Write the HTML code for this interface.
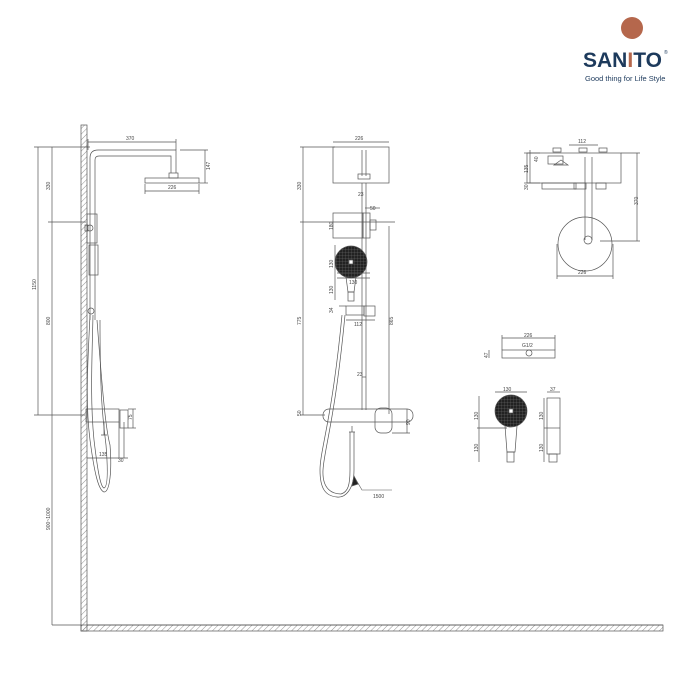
<!DOCTYPE html>
<html><head><meta charset="utf-8"><style>
html,body{margin:0;padding:0;background:#fff;width:700px;height:700px;overflow:hidden}
svg text{font-family:"Liberation Sans",sans-serif;fill:#444}
</style></head><body>
<svg width="700" height="700" viewBox="0 0 700 700" xmlns="http://www.w3.org/2000/svg">
<defs>
<pattern id="h" width="4" height="4" patternUnits="userSpaceOnUse" patternTransform="rotate(45)"><line x1="0" y1="0" x2="0" y2="4" stroke="#777" stroke-width="0.8"/></pattern>
<pattern id="ck" width="3" height="3" patternUnits="userSpaceOnUse"><rect width="3" height="3" fill="#222"/><path d="M0 0H3M0 0V3" stroke="#888" stroke-width="0.4"/></pattern>
</defs>
<!-- logo -->
<circle cx="632" cy="28" r="11" fill="#b5674c"/>
<text x="583" y="67" font-size="21" font-weight="bold" style="fill:#1d3a5c">SAN<tspan style="fill:#b5674c">I</tspan>TO</text>
<text x="664" y="54" font-size="5" style="fill:#1d3a5c">®</text>
<text x="585" y="81" font-size="7.5" style="fill:#1d3a5c">Good thing for Life Style</text>

<g fill="none" stroke="#555" stroke-width="0.7">
<!-- wall & floor -->
<rect x="81" y="125" width="6" height="506" fill="url(#h)"/>
<rect x="81" y="625" width="582" height="6" fill="url(#h)"/>
<line x1="87" y1="625" x2="663" y2="625"/>
<!-- left dims -->
<line x1="38" y1="147" x2="38" y2="415"/><line x1="34" y1="147" x2="90" y2="147"/><line x1="34" y1="415" x2="85" y2="415"/>
<line x1="52" y1="147" x2="52" y2="625"/><line x1="48" y1="222" x2="86" y2="222"/>
<line x1="52" y1="625" x2="81" y2="625"/>
<!-- left pipe -->
<path d="M90 320V158Q90 150 98 150H176V173M95 320V160Q95 156 99 156H171V173"/>
<rect x="169" y="173" width="9" height="5"/>
<rect x="145" y="178" width="54" height="5"/>
<line x1="88" y1="142" x2="176" y2="142"/><line x1="88" y1="139" x2="88" y2="150"/><line x1="176" y1="139" x2="176" y2="150"/>
<line x1="205" y1="150" x2="205" y2="183"/><line x1="180" y1="150" x2="208" y2="150"/><line x1="199" y1="183" x2="208" y2="183"/>
<line x1="145" y1="191" x2="199" y2="191"/><line x1="145" y1="184" x2="145" y2="194"/><line x1="199" y1="184" x2="199" y2="194"/>
<rect x="87" y="214" width="10" height="29"/><circle cx="90" cy="228" r="3"/>
<rect x="85" y="225" width="3" height="6"/>
<rect x="89" y="245" width="9" height="30"/>
<circle cx="91" cy="311" r="3"/>
<path d="M90 315C88 360 85 400 90 440C94 470 98 490 104 492C110 492 112 470 110 445C106 430 103 400 97 320"/>
<path d="M93 315C92 360 90 400 94 440C97 465 100 487 104 488C108 487 108 470 106 445C103 420 100 400 100 320"/>
<rect x="86" y="409" width="33" height="13"/>
<rect x="120" y="410" width="8" height="18"/>
<line x1="124" y1="422" x2="124" y2="458"/><line x1="119" y1="422" x2="119" y2="458"/>
<line x1="133" y1="409" x2="133" y2="428"/><line x1="128" y1="409" x2="136" y2="409"/><line x1="128" y1="428" x2="136" y2="428"/>
<line x1="87" y1="458" x2="128" y2="458"/>
<path d="M104 422V435M101 435H107"/>
<!-- middle view -->
<line x1="303" y1="147" x2="303" y2="415"/><line x1="300" y1="147" x2="335" y2="147"/><line x1="300" y1="222" x2="395" y2="222"/><line x1="300" y1="415" x2="325" y2="415"/>
<line x1="333" y1="142" x2="389" y2="142"/>
<rect x="333" y="147" width="56" height="36"/>
<path d="M362 150V176M366 150V176"/><rect x="358" y="174" width="12" height="5"/>
<line x1="362" y1="183" x2="362" y2="410"/><line x1="366" y1="183" x2="366" y2="410"/>
<rect x="333" y="213" width="30" height="25"/><rect x="363" y="213" width="7" height="25"/>
<rect x="370" y="220" width="6" height="10"/>
<line x1="365" y1="208" x2="380" y2="208"/>
<circle cx="351" cy="262" r="16" fill="url(#ck)"/>
<rect x="349" y="260" width="4" height="4" fill="#fff"/>
<path d="M346 277L348 292H354L356 277"/><rect x="348" y="292" width="6" height="9"/>
<line x1="335" y1="245" x2="335" y2="300"/><line x1="337" y1="273" x2="370" y2="273"/><line x1="337" y1="278" x2="370" y2="278"/>
<rect x="346" y="306" width="18" height="9"/><rect x="364" y="306" width="11" height="10"/>
<line x1="339" y1="306" x2="346" y2="306"/>
<line x1="346" y1="320" x2="375" y2="320"/>
<line x1="389" y1="226" x2="389" y2="414"/>
<line x1="362" y1="377" x2="366" y2="377"/>
<rect x="323" y="409" width="90" height="13" rx="6"/>
<rect x="375" y="408" width="17" height="25" rx="6"/>
<line x1="407" y1="409" x2="407" y2="433"/><line x1="392" y1="433" x2="410" y2="433"/>
<path d="M352 426V432M349 432H355M350 432V470C350 485 348 492 341 494C333 494 322 490 323 470C324 450 335 420 345 315"/>
<path d="M354 432V470C354 490 345 498 337 497C325 496 320 488 320 470C320 450 332 420 342 315"/>
<path d="M355 478L362 490H392" stroke-width="0.6"/>
<path d="M354 476L352 486L358 484Z" fill="#222"/>
<!-- right top -->
<rect x="527" y="153" width="94" height="30"/>
<rect x="548" y="156" width="15" height="8"/>
<path d="M554 165L561 160L568 165Z"/>
<rect x="542" y="183" width="34" height="6"/><rect x="574" y="183" width="12" height="6"/><rect x="596" y="183" width="10" height="6"/>
<rect x="553" y="148" width="8" height="4"/><rect x="579" y="148" width="8" height="4"/><rect x="599" y="148" width="8" height="4"/>
<line x1="569" y1="145" x2="598" y2="145"/>
<line x1="530" y1="150" x2="530" y2="183"/><line x1="524" y1="153" x2="540" y2="153"/><line x1="524" y1="183" x2="540" y2="183"/>
<line x1="585" y1="157" x2="585" y2="240"/><line x1="592" y1="157" x2="592" y2="240"/>
<circle cx="585" cy="244" r="27"/><circle cx="588" cy="240" r="4"/>
<line x1="637" y1="153" x2="637" y2="241"/><line x1="600" y1="241" x2="640" y2="241"/><line x1="621" y1="153" x2="640" y2="153"/>
<line x1="557" y1="276" x2="613" y2="276"/><line x1="557" y1="244" x2="557" y2="279"/><line x1="613" y1="244" x2="613" y2="279"/>
<!-- right lower -->
<rect x="502" y="350" width="53" height="8"/><circle cx="529" cy="353" r="3"/>
<line x1="502" y1="338" x2="555" y2="338"/><line x1="502" y1="335" x2="502" y2="350"/><line x1="555" y1="335" x2="555" y2="350"/>
<line x1="489" y1="350" x2="489" y2="358"/>
<circle cx="511" cy="411" r="16" fill="url(#ck)"/><rect x="509" y="409" width="4" height="4" fill="#fff"/>
<path d="M505 426L507 452H515L517 426"/><rect x="507" y="452" width="7" height="10"/>
<line x1="479" y1="396" x2="479" y2="462"/><line x1="477" y1="428" x2="507" y2="428"/>
<line x1="495" y1="392" x2="527" y2="392"/>
<rect x="547" y="398" width="13" height="56"/><rect x="549" y="454" width="8" height="8"/>
<line x1="544" y1="398" x2="544" y2="462"/><line x1="544" y1="428" x2="560" y2="428"/>
<line x1="547" y1="392" x2="560" y2="392"/>
</g>
<g font-size="5">
<text x="126" y="140">370</text><text x="168" y="189">226</text>
<text transform="translate(50,190) rotate(-90)">330</text>
<text transform="translate(36,290) rotate(-90)">1150</text>
<text transform="translate(50,325) rotate(-90)">800</text>
<text transform="translate(50,530) rotate(-90)">900~1000</text>
<text transform="translate(210,170) rotate(-90)">147</text>
<text x="99" y="456">135</text><text x="118" y="462">30</text>
<text transform="translate(132,420) rotate(-90)">75</text>
<text x="355" y="140">226</text>
<text transform="translate(301,190) rotate(-90)">330</text>
<text transform="translate(301,325) rotate(-90)">775</text>
<text transform="translate(301,416) rotate(-90)">50</text>
<text x="370" y="210">50</text><text x="358" y="196">23</text>
<text transform="translate(333,230) rotate(-90)">180</text>
<text transform="translate(333,268) rotate(-90)">130</text>
<text transform="translate(333,294) rotate(-90)">130</text>
<text transform="translate(333,313) rotate(-90)">34</text>
<text x="349" y="284">130</text><text x="354" y="326">112</text><text x="357" y="376">23</text>
<text transform="translate(393,325) rotate(-90)">865</text>
<text transform="translate(410,425) rotate(-90)">90</text>
<text x="373" y="498">1500</text>
<text x="578" y="143">112</text><text x="578" y="274">226</text>
<text transform="translate(638,205) rotate(-90)">370</text>
<text transform="translate(528,173) rotate(-90)">135</text>
<text transform="translate(538,162) rotate(-90)">40</text>
<text transform="translate(528,190) rotate(-90)">30</text>
<text x="524" y="337">226</text><text x="522" y="347">G1/2</text>
<text transform="translate(488,358) rotate(-90)">47</text>
<text x="503" y="391">130</text><text x="550" y="391">37</text>
<text transform="translate(478,420) rotate(-90)">130</text>
<text transform="translate(478,452) rotate(-90)">130</text>
<text transform="translate(543,420) rotate(-90)">130</text>
<text transform="translate(543,452) rotate(-90)">130</text>
</g>
</svg>
</body></html>
